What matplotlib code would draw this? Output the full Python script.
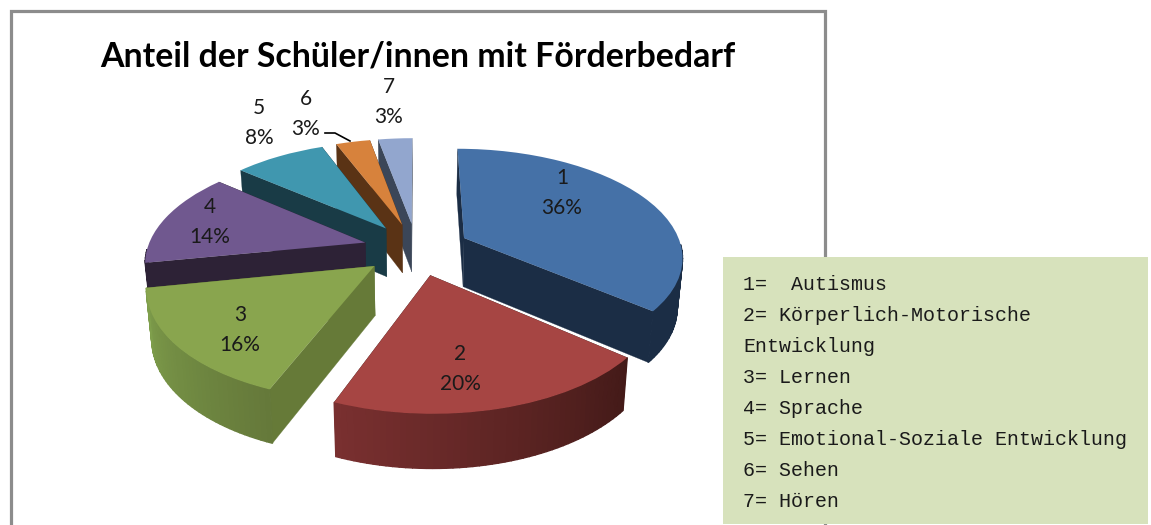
import numpy as np
import matplotlib
matplotlib.use("Agg")
import matplotlib.pyplot as plt
from matplotlib.colors import to_rgb
from matplotlib.patches import Rectangle
from matplotlib.transforms import Transform

# ---- data ----
TITLE = "Anteil der Schüler/innen mit Förderbedarf"
slice_ids = [1, 2, 3, 4, 5, 6, 7]
shares = [36, 20, 16, 14, 8, 3, 3]
legend_lines = [
    "1=  Autismus",
    "2= Körperlich-Motorische",
    "Entwicklung",
    "3= Lernen",
    "4= Sprache",
    "5= Emotional-Soziale Entwicklung",
    "6= Sehen",
    "7= Hören",
]

# ---- style ----
top_colors = ["#4571A7", "#A64543", "#89A54E", "#70588F", "#4097AF", "#D7823C", "#92A6CE"]
cut_colors = ["#1B2D45", "#431A18", "#667A38", "#2D2236", "#193B46", "#5A3315", "#3B4658"]
rim_end_colors = [("#1B2D45", "#1B2D45"), ("#431A18", "#7A3030"), ("#65793A", "#7F9F4C"),
                  ("#2D2236", "#2D2236"), ("#193B46", "#193B46"), ("#5A3315", "#5A3315"),
                  ("#3B4658", "#3B4658")]
label_xy = [(562, 193), (460, 369), (240, 330), (210, 222), (259, 123), (306, 114), (389, 102)]
EXPLODE = 0.245
CX, CY, RX, RY, PERSP, DEPTH, LOWER_SHRINK = 416.5, 249, 218, 106.8, 0.16, 49, 0.98


class DiskProjection(Transform):
    """Perspective view of the unit-radius pie plane, in pixel-like data units."""
    input_dims = 2
    output_dims = 2
    is_separable = False
    has_inverse = False

    def transform_non_affine(self, values):
        values = np.asarray(values, dtype=float)
        u, v = values[:, 0], values[:, 1]
        w = 1 + PERSP * v
        return np.column_stack([CX + RX * u / w, CY - RY * v / w])


def project(u, v, lower=False):
    w = 1 + PERSP * v
    x = RX * u / w
    y = CY - RY * v / w
    if lower:
        x = x * LOWER_SHRINK
        y = y + DEPTH / np.sqrt(w)
    return CX + x, y


def blend(a, b, f):
    a, b = np.array(to_rgb(a)), np.array(to_rgb(b))
    return tuple(a + (b - a) * f)


plt.rcParams["font.family"] = ["Lato", "DejaVu Sans"]
fig = plt.figure(figsize=(11.51, 5.25), dpi=100, facecolor="white")
ax = fig.add_axes([0, 0, 1, 1])

projection = DiskProjection() + ax.transData
wedges, _ = ax.pie(
    shares,
    explode=[EXPLODE] * len(shares),
    colors=top_colors,
    startangle=90,
    counterclock=False,
    wedgeprops=dict(transform=projection, linewidth=0),
)
ax.set_aspect("auto")
ax.set_xlim(0, 1151)
ax.set_ylim(525, 0)
ax.axis("off")

# chart frame
ax.add_patch(Rectangle((11.5, 11), 813.5, 600, facecolor="white", edgecolor="#8C8C8C",
                       linewidth=2.3, zorder=0))

# side faces, back slice first
total = sum(shares)
edges = np.cumsum([0] + shares) / total * 2 * np.pi  # clockwise from 12 o'clock
n = len(shares)
for i in range(n):
    t1, t2 = edges[i], edges[i + 1]
    mid = (t1 + t2) / 2
    ou, ov = EXPLODE * np.sin(mid), EXPLODE * np.cos(mid)
    z = 2 + (n - i) * 2
    wedges[i].set_zorder(z + 1)
    ax0, ay0 = project(ou, ov)
    ax1, ay1 = project(ou, ov, lower=True)
    for t in (t1, t2):
        cu, cv = ou + np.sin(t), ov + np.cos(t)
        tx, ty = project(cu, cv)
        bx, by = project(cu, cv, lower=True)
        ax.fill([ax0, tx, bx, ax1], [ay0, ty, by, ay1], color=cut_colors[i], lw=0.2, zorder=z)
    steps = max(3, int((t2 - t1) * 40))
    ts = np.linspace(t1, t2, steps + 1)
    for j in range(steps):
        a, b = ts[j], ts[j + 1]
        if np.cos((a + b) / 2) > -0.06:  # back of the rim: hidden behind the top face
            continue
        cu = ou + np.sin([a, b])
        cv = ov + np.cos([a, b])
        tx, ty = project(cu, cv)
        bx, by = project(cu, cv, lower=True)
        ax.fill([tx[0], tx[1], bx[1], bx[0]], [ty[0], ty[1], by[1], by[0]],
                color=blend(*rim_end_colors[i], (j + 0.5) / steps), lw=1.0, zorder=z + 0.5)

# title and data labels
ax.text(418, 57, TITLE, ha="center", va="center", fontsize=24.4, fontweight="bold",
        color="black", zorder=40)
for sid, share, (x, y) in zip(slice_ids, shares, label_xy):
    ax.text(x, y, f"{sid}\n{share}%", ha="center", va="center", fontsize=15, linespacing=1.62,
            color="#1a1a1a", zorder=40)

# leader line of slice 6
ax.plot([325, 335, 350], [133, 133, 141], color="black", lw=1.2, zorder=40)

# legend box
ax.add_patch(Rectangle((723, 257), 425, 267, facecolor="#D7E2BC", edgecolor="none", zorder=50))
for k, line in enumerate(legend_lines):
    ax.text(743, 284.5 + k * 31, line, ha="left", va="center", fontsize=14.4,
            family="Liberation Mono", color="#1a1a1a", zorder=51)

fig.savefig("out.png", dpi=100)
